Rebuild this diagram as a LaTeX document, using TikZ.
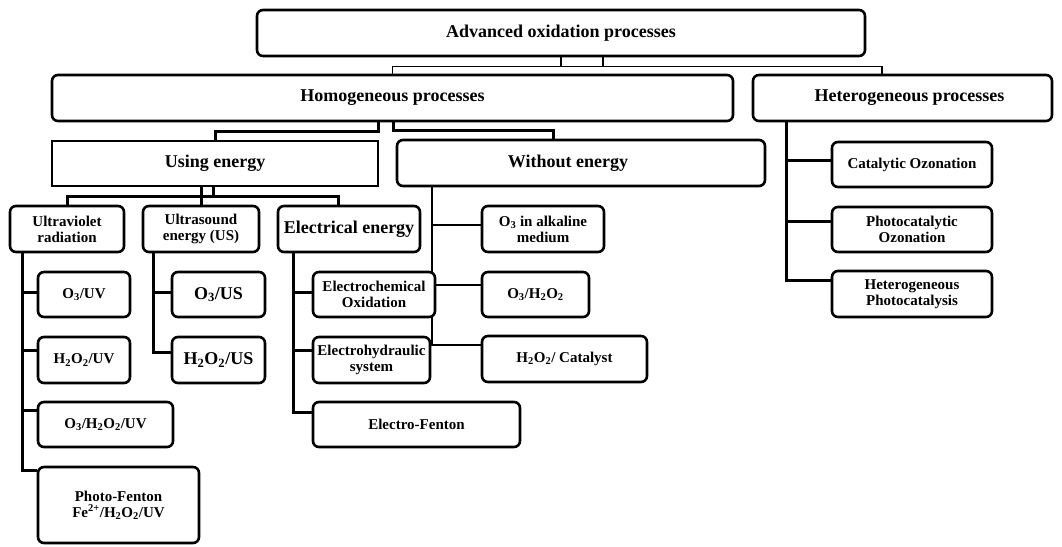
\documentclass[tikz,border=0pt]{standalone}
\usepackage{fontspec}
\setmainfont{Liberation Serif}
\usetikzlibrary{backgrounds}

\begin{document}
\begin{tikzpicture}[x=1pt, y=-1pt,
	box/.style={draw, line width=2.6pt, rounded corners=6pt, fill=white, inner sep=0pt, align=center, font=\bfseries\fontsize{15}{16}\selectfont},
	bigbox/.style={box, font=\bfseries\fontsize{18}{20}\selectfont},
	link/.style={line width=3pt},
	thinlink/.style={line width=1.4pt}]

		\useasboundingbox (0,0) rectangle (1062,546);

		% top levels
		\node[bigbox, minimum width=608pt, minimum height=46pt] (aop) at (561,33) {Advanced oxidation processes};
		\node[bigbox, minimum width=681pt, minimum height=46pt] (homog) at (392.5,98) {Homogeneous processes};
		\node[bigbox, minimum width=299pt, minimum height=46pt] (hetero) at (902.5,98) {\hspace*{14pt}Heterogeneous processes};
		\node[bigbox, rounded corners=0pt, minimum width=326pt, minimum height=45pt] (using) at (215,163.5) {Using energy};
		\node[bigbox, minimum width=368pt, minimum height=46pt] (without) at (581,163) {Without energy\hspace*{26pt}};

		% using energy
		\node[box, minimum width=114pt, minimum height=46pt] (uv) at (67,229) {Ultraviolet\\radiation};
		\node[box, minimum width=116pt, minimum height=46pt] (usnd) at (201,229) {Ultrasound\\energy (US)};
		\node[bigbox, minimum width=142pt, minimum height=46pt] (elec) at (349,229) {Electrical energy};

		\node[box, minimum width=92pt, minimum height=45pt] (o3uv) at (84,294.5) {O\textsubscript{3}/UV};
		\node[box, minimum width=92pt, minimum height=46pt] (h2o2uv) at (84,360) {H\textsubscript{2}O\textsubscript{2}/UV};
		\node[box, minimum width=135pt, minimum height=45pt] (o3h2o2uv) at (105.5,424.5) {O\textsubscript{3}/H\textsubscript{2}O\textsubscript{2}/UV};
		\node[box, minimum width=161pt, minimum height=76pt] (pfenton) at (118.5,505) {Photo-Fenton\\Fe\textsuperscript{2+}/H\textsubscript{2}O\textsubscript{2}/UV};

		\node[bigbox, minimum width=93pt, minimum height=45pt] (o3us) at (218.5,294.5) {O\textsubscript{3}/US};
		\node[bigbox, minimum width=93pt, minimum height=46pt] (h2o2us) at (218.5,360) {H\textsubscript{2}O\textsubscript{2}/US};

		\node[box, minimum width=122pt, minimum height=45pt] (echem) at (374,294.5) {Electrochemical\\Oxidation};
		\node[box, minimum width=117pt, minimum height=46pt] (ehyd) at (371.5,360) {Electrohydraulic\\system};
		\node[box, minimum width=207pt, minimum height=45pt] (efenton) at (416.5,424.5) {Electro-Fenton};

		% without energy
		\node[box, minimum width=122pt, minimum height=46pt] (alk) at (543,229) {O\textsubscript{3} in alkaline\\medium};
		\node[box, minimum width=107pt, minimum height=45pt] (o3h2o2) at (535.5,294.5) {O\textsubscript{3}/H\textsubscript{2}O\textsubscript{2}};
		\node[box, minimum width=165pt, minimum height=46pt] (h2o2cat) at (564.5,359) {H\textsubscript{2}O\textsubscript{2}/ Catalyst};

		% heterogeneous
		\node[box, minimum width=160pt, minimum height=45pt] (cat) at (912,164.5) {Catalytic Ozonation};
		\node[box, minimum width=160pt, minimum height=45pt] (photoz) at (912,229.5) {Photocatalytic\\Ozonation};
		\node[box, minimum width=160pt, minimum height=46pt] (hetphoto) at (912,294) {Heterogeneous\\Photocatalysis};

		% connectors
		\begin{scope}[on background layer]
			\draw[thinlink] ([xshift=42pt]aop.south) -- ++(0,9) -| (homog.north);
			\draw[thinlink] (aop.south) -- ++(0,9) -| ([xshift=-20.5pt]hetero.north);

			\draw[link] ([xshift=-14.5pt]homog.south) -- ++(0,9) -| (using.north);
			\draw[link] ([xshift=0.5pt]homog.south) -- ++(0,8) -| ([xshift=-28pt]without.north);

			\draw[link] ([xshift=-2pt]using.south) -- ++(0,9) -| (uv.north);
			\draw[link] (usnd.north |- using.south) -- (usnd.north);
			\draw[link] ([xshift=-2pt]using.south) -- ++(0,9) -| ([xshift=-11pt]elec.north);

			\draw[link] ([xshift=-45pt]uv.south) |- ([yshift=2.5pt]o3uv.west);
			\draw[link] ([xshift=-45pt]uv.south) |- ([yshift=10pt]h2o2uv.west);
			\draw[link] ([xshift=-45pt]uv.south) |- ([yshift=14.5pt]o3h2o2uv.west);
			\draw[link] ([xshift=-45pt]uv.south) |- ([yshift=35pt]pfenton.west);

			\draw[link] ([xshift=-48pt]usnd.south) |- ([yshift=2.5pt]o3us.west);
			\draw[link] ([xshift=-48pt]usnd.south) |- ([yshift=8pt]h2o2us.west);

			\draw[link] ([xshift=-56pt]elec.south) |- ([yshift=2.5pt]echem.west);
			\draw[link] ([xshift=-56pt]elec.south) |- ([yshift=10pt]ehyd.west);
			\draw[link] ([xshift=-56pt]elec.south) |- ([yshift=12.5pt]efenton.west);

			\draw[thinlink] ([xshift=-149pt]without.south) |- ([yshift=4pt]alk.west);
			\draw[thinlink] ([xshift=-149pt]without.south) |- ([yshift=9.5pt]o3h2o2.west);
			\draw[thinlink] ([xshift=-149pt]without.south) |- ([yshift=14pt]h2o2cat.west);

			\draw[link] ([xshift=-116.5pt]hetero.south) |- ([yshift=4.5pt]cat.west);
			\draw[link] ([xshift=-116.5pt]hetero.south) |- ([yshift=8.5pt]photoz.west);
			\draw[link] ([xshift=-116.5pt]hetero.south) |- ([yshift=14pt]hetphoto.west);
		\end{scope}

\end{tikzpicture}
\end{document}
